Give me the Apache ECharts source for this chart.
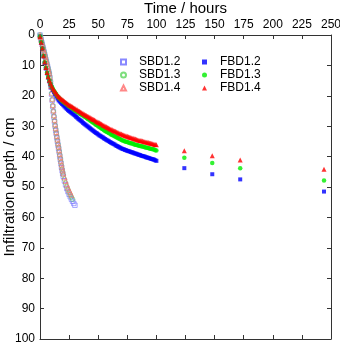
<!DOCTYPE html>
<html>
<head>
<meta charset="utf-8">
<script src="https://cdn.jsdelivr.net/npm/echarts@6/dist/echarts.min.js"></script>
<style>
html,body{margin:0;padding:0;background:#fff;}
#chart{width:340px;height:344px;}
</style>
</head>
<body>
<div id="chart"></div>
<script>
// ---- Data ----
const xTickValues = [0, 25, 50, 75, 100, 125, 150, 175, 200, 225, 250];
const yTickValues = [0, 10, 20, 30, 40, 50, 60, 70, 80, 90, 100];

// SBD (hollow markers) times in hours
const sbdHours = [0,0.5,1,1.5,2,2.5,3,3.5,4,4.5,5,5.5,6,6.5,7,7.5,8,8.5,9,9.5,10,10.5,11,11.5,12,12.5,13,13.5,14,14.5,15,15.5,16,16.5,17,17.5,18,18.5,19,19.5,20,21,22,23,24,25,26,27,28,29,30];
const sbd12 = [0,0.8,1.6,2.4,3.2,4.0,4.8,5.6,6.4,7.2,8.0,8.8,9.6,10.4,11.2,12.0,12.8,14.0,15.5,17.2,19.5,21.5,23.5,25.3,27.0,28.5,30.0,31.3,32.5,33.8,35.0,36.2,37.3,38.5,39.8,41.0,42.2,43.5,44.6,45.6,46.5,48.0,49.3,50.5,51.5,52.4,53.2,54.0,54.7,55.4,56.0];
const sbd13 = [0,0.8,1.6,2.3,3.1,3.9,4.7,5.5,6.3,7.1,7.9,8.7,9.5,10.3,11.1,11.9,12.7,13.9,15.3,17.0,19.2,21.2,23.2,25.0,26.7,28.2,29.7,31.0,32.2,33.5,34.7,35.9,37.0,38.2,39.4,40.6,41.8,43.0,44.1,45.1,46.0,47.4,48.7,49.8,50.8,51.7,52.5,53.3,54.0];
const sbd14 = [0,0.7,1.5,2.2,3.0,3.8,4.6,5.4,6.2,7.0,7.8,8.6,9.4,10.2,11.0,11.8,12.6,13.8,15.2,16.8,19.0,21.0,23.0,24.8,26.4,27.9,29.4,30.7,31.9,33.2,34.4,35.6,36.7,37.9,39.1,40.3,41.5,42.6,43.6,44.6,45.5,46.8,48.0,49.2,50.2,51.0,51.8,52.6];

// FBD (filled markers) times in hours
const fbdHours = [0,1,2,3,4,5,6,7,8,9,10,11,12,13,14,15,16,17,18,19,20,21,22,23,24,25,26,27,28,29,30,31,32,33,34,35,36,37,38,39,40,41,42,43,44,45,46,47,48,49,50,51,52,53,54,55,56,57,58,59,60,61,62,63,64,65,66,67,68,69,70,71,72,73,74,75,76,77,78,79,80,81,82,83,84,85,86,87,88,89,90,91,92,93,94,95,96,97,98,99,100,124,148,172,244];
const fbd12 = [0.5,2.5,4.5,7.0,9.2,11.0,12.6,14.0,15.2,16.3,17.3,18.1,18.8,19.5,20.2,20.9,21.5,21.9,22.3,22.7,23.1,23.5,23.9,24.3,24.7,25.0,25.3,25.6,25.9,26.2,26.5,26.9,27.2,27.6,27.9,28.2,28.5,28.9,29.2,29.5,29.8,30.1,30.4,30.7,31.0,31.3,31.6,31.9,32.2,32.4,32.7,33.0,33.2,33.5,33.7,34.0,34.2,34.5,34.7,34.9,35.2,35.4,35.6,35.8,36.0,36.3,36.5,36.7,36.9,37.1,37.3,37.5,37.6,37.8,37.9,38.1,38.2,38.3,38.5,38.6,38.7,38.9,39.0,39.1,39.3,39.4,39.5,39.7,39.8,39.9,40.0,40.2,40.3,40.4,40.5,40.7,40.8,40.9,41.0,41.2,41.4,43.8,45.8,47.5,51.5];
const fbd13 = [0.5,2.4,4.4,6.9,9.0,10.8,12.4,13.8,15.0,16.0,16.9,17.6,18.3,18.9,19.5,20.1,20.6,21.0,21.4,21.7,22.0,22.3,22.6,22.9,23.2,23.5,23.8,24.0,24.2,24.5,24.8,25.0,25.3,25.5,25.8,26.0,26.3,26.5,26.8,27.0,27.3,27.6,27.8,28.1,28.4,28.7,28.9,29.2,29.5,29.7,30.0,30.3,30.5,30.8,31.0,31.3,31.6,31.8,32.0,32.2,32.4,32.7,32.9,33.1,33.3,33.5,33.7,33.9,34.1,34.3,34.5,34.7,34.8,35.0,35.1,35.2,35.4,35.5,35.6,35.7,35.8,36.0,36.1,36.2,36.3,36.4,36.5,36.6,36.7,36.8,36.9,37.0,37.1,37.2,37.3,37.4,37.5,37.6,37.7,37.9,38.0,40.4,42.1,43.8,47.9];
const fbd14 = [0.5,2.4,4.3,6.8,8.9,10.7,12.3,13.7,14.9,15.9,16.8,17.5,18.1,18.7,19.2,19.7,20.2,20.5,20.9,21.2,21.5,21.8,22.1,22.4,22.7,23.0,23.2,23.4,23.6,23.9,24.1,24.4,24.6,24.9,25.1,25.3,25.6,25.8,26.1,26.3,26.5,26.7,26.9,27.1,27.4,27.6,27.8,28.0,28.3,28.5,28.7,28.9,29.1,29.3,29.6,29.8,30.0,30.2,30.4,30.6,30.8,31.0,31.2,31.4,31.6,31.7,31.9,32.1,32.3,32.5,32.6,32.8,32.9,33.1,33.2,33.3,33.5,33.6,33.7,33.9,34.0,34.1,34.2,34.4,34.5,34.6,34.7,34.8,34.9,35.0,35.1,35.2,35.3,35.4,35.5,35.6,35.7,35.8,35.9,36.0,36.1,38.1,39.7,41.1,44.2];

const seriesNames = ['SBD1.2', 'SBD1.3', 'SBD1.4', 'FBD1.2', 'FBD1.3', 'FBD1.4'];

// ---- Chart ----
const pair = (xs, ys) => ys.map((v, i) => [xs[i], v]);
const FONT = 'Liberation Sans, Arial, sans-serif';
const axisLineStyle = { color: '#333', width: 1 };

const chart = echarts.init(document.getElementById('chart'), null, { renderer: 'canvas' });

function hollow(name, symbol, color, data, size) {
  return {
    name, type: 'scatter', xAxisIndex: 0, yAxisIndex: 0,
    symbol, symbolSize: size, data,
    itemStyle: { color: 'transparent', borderColor: color, borderWidth: 0.7 },
    emphasis: { disabled: true }
  };
}
function filled(name, symbol, color, data, size) {
  return {
    name, type: 'scatter', xAxisIndex: 0, yAxisIndex: 0,
    symbol, symbolSize: size, data,
    itemStyle: { color },
    emphasis: { disabled: true }
  };
}

const legendCommon = {
  orient: 'vertical', padding: 0, itemWidth: 5, itemHeight: 5, itemGap: 1,
  textStyle: { fontFamily: FONT, fontSize: 12, color: '#000', lineHeight: 12, padding: [0, 0, 0, 8] },
  selectedMode: false
};

chart.setOption({
  animation: false,
  backgroundColor: '#fff',
  grid: { left: 40, right: 9, top: 35, bottom: 5, containLabel: false, outerBoundsMode: 'none' },
  legend: [
    Object.assign({}, legendCommon, { left: 120, top: 56, data: seriesNames.slice(0, 3) }),
    Object.assign({}, legendCommon, { left: 202, top: 56, data: seriesNames.slice(3) })
  ],
  xAxis: [
    {
      type: 'value', position: 'top', min: xTickValues[0], max: xTickValues[xTickValues.length - 1], interval: 25,
      name: 'Time / hours', nameLocation: 'middle', nameGap: 19, nameMoveOverlap: false,
      nameTextStyle: { fontFamily: FONT, fontSize: 15, color: '#000' },
      axisLine: { show: true, lineStyle: axisLineStyle },
      axisTick: { show: true, inside: true, length: 4, lineStyle: axisLineStyle },
      axisLabel: { fontFamily: FONT, fontSize: 12, color: '#000', margin: 4 },
      splitLine: { show: false }
    },
    {
      type: 'value', position: 'bottom', min: xTickValues[0], max: xTickValues[xTickValues.length - 1], interval: 25,
      axisLine: { show: true, onZero: false, lineStyle: axisLineStyle },
      axisTick: { show: true, inside: true, length: 4, lineStyle: axisLineStyle },
      axisLabel: { show: false },
      splitLine: { show: false }
    }
  ],
  yAxis: [
    {
      type: 'value', position: 'left', inverse: true, min: yTickValues[0], max: yTickValues[yTickValues.length - 1], interval: 10,
      name: 'Infiltration depth / cm', nameLocation: 'middle', nameGap: 23, nameRotate: 90, nameMoveOverlap: false,
      nameTextStyle: { fontFamily: FONT, fontSize: 15, color: '#000' },
      axisLine: { show: true, onZero: false, lineStyle: axisLineStyle },
      axisTick: { show: true, inside: true, length: 4, lineStyle: axisLineStyle },
      axisLabel: { fontFamily: FONT, fontSize: 12, color: '#000', margin: 5 },
      splitLine: { show: false }
    },
    {
      type: 'value', position: 'right', inverse: true, min: yTickValues[0], max: yTickValues[yTickValues.length - 1], interval: 10,
      axisLine: { show: true, onZero: false, lineStyle: axisLineStyle },
      axisTick: { show: true, inside: true, length: 4, lineStyle: axisLineStyle },
      axisLabel: { show: false },
      splitLine: { show: false }
    }
  ],
  series: [
    hollow('SBD1.2', 'rect', '#6a6aff', pair(sbdHours, sbd12), 4.5),
    hollow('SBD1.3', 'circle', '#5cd65c', pair(sbdHours, sbd13), 4.5),
    hollow('SBD1.4', 'triangle', '#ff6a6a', pair(sbdHours, sbd14), 5),
    filled('FBD1.2', 'rect', '#0000ff', pair(fbdHours, fbd12), 4),
    filled('FBD1.3', 'circle', '#00ee00', pair(fbdHours, fbd13), 4.5),
    filled('FBD1.4', 'triangle', '#ff0000', pair(fbdHours, fbd14), 5)
  ]
});
</script>
</body>
</html>
